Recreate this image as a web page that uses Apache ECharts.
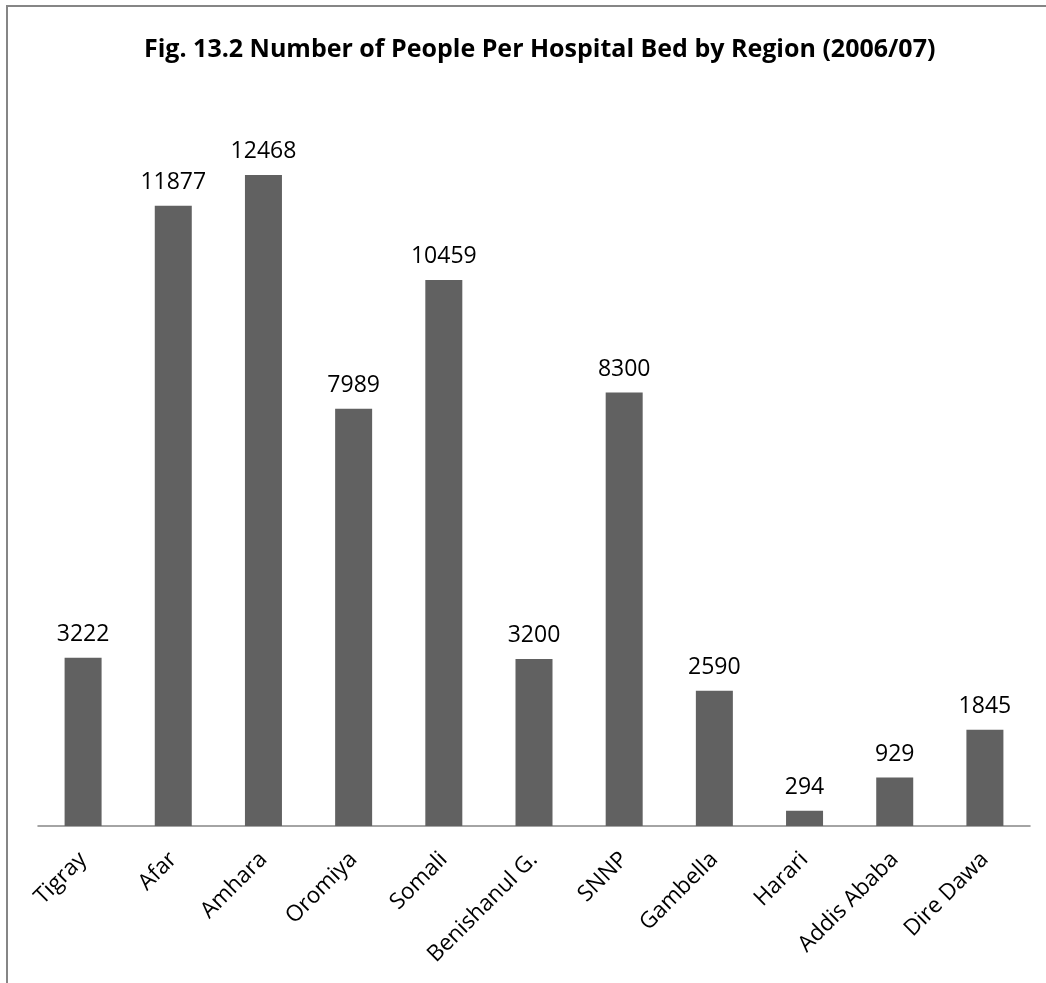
<!DOCTYPE html>
<html><head><meta charset="utf-8">
<script src="https://cdn.jsdelivr.net/npm/echarts@6/dist/echarts.min.js"></script>
<style>html,body{margin:0;padding:0;background:#fff}#c{width:1046px;height:983px}</style>
</head><body><div id="c"></div>
<script>
const categories = ['Tigray','Afar','Amhara','Oromiya','Somali','Benishanul G.','SNNP','Gambella','Harari','Addis Ababa','Dire Dawa'];
const values = [3222,11877,12468,7989,10459,3200,8300,2590,294,929,1845];
const titleText = 'Fig. 13.2 Number of People Per Hospital Bed by Region (2006/07)';
const FONT = 'Open Sans';
const chart = echarts.init(document.getElementById('c'), null, {renderer:'canvas'});
chart.setOption({
  backgroundColor:'#fff',
  animation:false,
  title:{text:titleText,left:139,top:32,textStyle:{fontFamily:FONT,fontWeight:'bold',fontSize:25,color:'#000'}},
  graphic:[{type:'rect',shape:{x:7,y:6,width:3000,height:3000},style:{fill:'none',stroke:'#868686',lineWidth:2},silent:true}],
  grid:{left:38,right:16,top:95,bottom:157,containLabel:false},
  xAxis:{type:'category',data:categories,
    axisLine:{lineStyle:{color:'#868686',width:1.5}},axisTick:{show:false},
    axisLabel:{rotate:45,margin:30,fontFamily:FONT,fontSize:22.5,color:'#000',interval:0}},
  yAxis:{type:'value',min:0,max:14000,show:false,splitLine:{show:false}},
  series:[{type:'bar',data:values,barWidth:37,itemStyle:{color:'#616161'},
    label:{show:true,position:'top',distance:12,fontFamily:FONT,fontSize:23,color:'#000'}}]
});
</script></body></html>
